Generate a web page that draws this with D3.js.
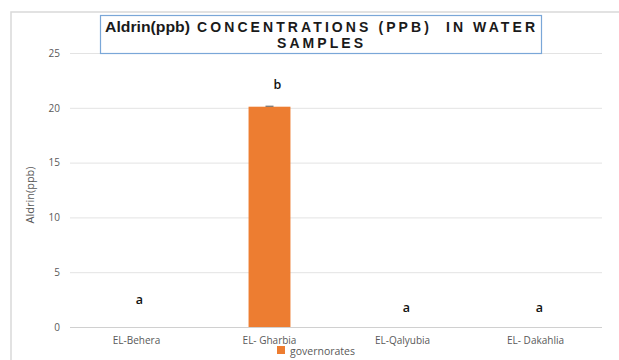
<!DOCTYPE html>
<html>
<head>
  <meta charset="utf-8">
  <script src="https://d3js.org/d3.v7.min.js"></script>
  <style>
    body { margin: 0; background: #fff; }
    text { font-family: "Open Sans", "Liberation Sans", sans-serif; }
  </style>
</head>
<body>
  <svg id="chart" width="619" height="360"></svg>

  <script>
    // datos
    const categories = ["EL-Behera", "EL- Gharbia", "EL-Qalyubia", "EL- Dakahlia"];
    const values = [0, 20.1, 0, 0];
    const letters = ["a", "b", "a", "a"];
    const letterLevels = [2.1, 21.7, 1.4, 1.4]; // altura de la letra en unidades del eje
    const yTicks = [0, 5, 10, 15, 20, 25];
    const seriesName = "governorates";

    const width = 619;
    const height = 360;
    const margin = { top: 53, right: 17, bottom: 33, left: 70 };
    const svg = d3.select("#chart");

    // borde del área del gráfico
    svg.append("path")
      .attr("d", `M11,${height} V12 H${width}`)
      .attr("fill", "none")
      .attr("stroke", "#d9d9d9")
      .attr("stroke-width", 1.5);

    // escalas
    const x = d3.scaleBand()
      .domain(categories)
      .range([margin.left, width - margin.right])
      .paddingInner(0.685)
      .paddingOuter(0.3425);

    const y = d3.scaleLinear()
      .domain([0, 25])
      .range([327, margin.top]);

    // líneas de cuadrícula
    svg.append("g")
      .selectAll("line")
      .data(yTicks)
      .join("line")
      .attr("x1", margin.left)
      .attr("x2", width - margin.right)
      .attr("y1", (d) => y(d) + 0.5)
      .attr("y2", (d) => y(d) + 0.5)
      .attr("stroke", (d) => (d === 0 ? "#d0d0d0" : "#e3e3e3"))
      .attr("stroke-width", 1);

    // eje y
    const yAxis = d3.axisLeft(y).tickValues(yTicks).tickSize(0).tickPadding(0);
    const gy = svg.append("g")
      .attr("transform", `translate(60,0)`)
      .call(yAxis);
    gy.select(".domain").remove();
    gy.selectAll("text")
      .attr("fill", "#595959")
      .style("font-size", "10px");

    // barras
    svg.append("g")
      .selectAll("rect")
      .data(values)
      .join("rect")
      .attr("x", (d, i) => x(categories[i]))
      .attr("y", (d) => y(d))
      .attr("width", x.bandwidth())
      .attr("height", (d) => y(0) - y(d))
      .attr("fill", "#ed7d31");

    // pequeña marca de error sobre la barra
    svg.append("g")
      .selectAll("line")
      .data(values.filter((d) => d > 0).map((d) => ({ v: d, c: categories[values.indexOf(d)] })))
      .join("line")
      .attr("x1", (d) => x(d.c) + x.bandwidth() / 2 - 4)
      .attr("x2", (d) => x(d.c) + x.bandwidth() / 2 + 4)
      .attr("y1", (d) => y(d.v) - 0.5)
      .attr("y2", (d) => y(d.v) - 0.5)
      .attr("stroke", "#555")
      .attr("stroke-width", 1);

    // letras de significancia
    svg.append("g")
      .selectAll("text")
      .data(letters)
      .join("text")
      .attr("x", (d, i) => x(categories[i]) + x.bandwidth() / 2 + (i === 0 ? 3 : i === 1 ? 8 : 4))
      .attr("y", (d, i) => y(letterLevels[i]))
      .attr("text-anchor", "middle")
      .attr("fill", "#111")
      .style("font-size", "12.5px")
      .style("font-weight", "600")
      .text((d) => d);

    // eje x (etiquetas)
    const xAxis = d3.axisBottom(x).tickSize(0).tickPadding(10);
    const gx = svg.append("g")
      .attr("transform", `translate(0,${y(0)})`)
      .call(xAxis);
    gx.select(".domain").remove();
    gx.selectAll("text")
      .attr("fill", "#595959")
      .style("font-size", "10px");

    // título del eje y
    svg.append("text")
      .attr("transform", "rotate(-90)")
      .attr("x", -195)
      .attr("y", 34)
      .attr("text-anchor", "middle")
      .attr("fill", "#595959")
      .style("font-size", "11px")
      .text("Aldrin(ppb)");

    // título con recuadro
    svg.append("rect")
      .attr("x", 100.5)
      .attr("y", 15.5)
      .attr("width", 441)
      .attr("height", 38)
      .attr("fill", "#fff")
      .attr("stroke", "#7aa7d8")
      .attr("stroke-width", 1.2);

    const titleFont = "'Liberation Sans', Arial, sans-serif";
    const title = svg.append("text")
      .attr("y", 31.5)
      .attr("fill", "#1a1a1a")
      .style("font-family", titleFont)
      .style("font-size", "14px")
      .style("font-weight", "bold");
    title.append("tspan")
      .attr("x", 105)
      .attr("textLength", 85)
      .attr("lengthAdjust", "spacingAndGlyphs")
      .text("Aldrin(ppb)");
    title.append("tspan")
      .attr("x", 197)
      .attr("textLength", 338)
      .attr("lengthAdjust", "spacing")
      .text("CONCENTRATIONS (PPB)\u00a0\u00a0IN WATER");
    svg.append("text")
      .attr("x", 277)
      .attr("y", 47.5)
      .attr("textLength", 86)
      .attr("lengthAdjust", "spacing")
      .attr("fill", "#1a1a1a")
      .style("font-family", titleFont)
      .style("font-size", "14px")
      .style("font-weight", "bold")
      .text("SAMPLES");

    // leyenda
    svg.append("rect")
      .attr("x", 277)
      .attr("y", 346)
      .attr("width", 8)
      .attr("height", 8)
      .attr("fill", "#ed7d31");
    svg.append("text")
      .attr("x", 290)
      .attr("y", 355)
      .attr("fill", "#595959")
      .style("font-size", "10.5px")
      .text(seriesName);
  </script>
</body>
</html>
